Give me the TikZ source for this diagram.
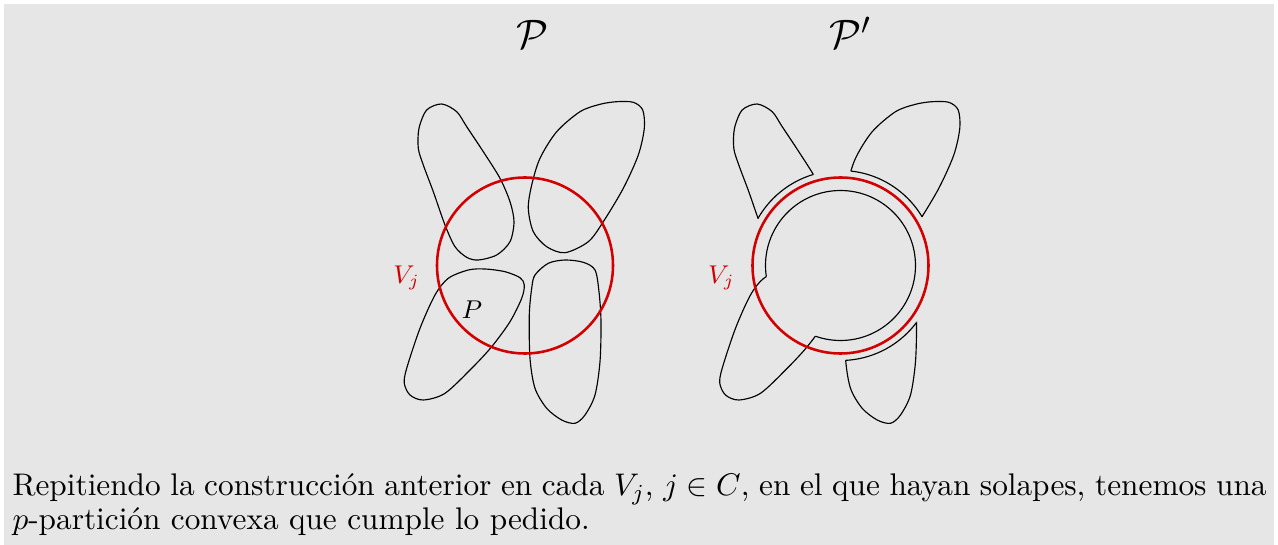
\documentclass[tikz,border=0pt]{standalone}
\usepackage{amsmath,amssymb}
\definecolor{bggray}{RGB}{230,230,230}
\definecolor{vred}{RGB}{210,0,0}
\newcommand\shA{plot[smooth cycle] coordinates {(441.7,104) (426.7,110) (419,128.3) (418.3,148.3) (423.3,165) (433.3,191.7) (445,225) (455,246.7) (466.7,257.3) (478.3,260) (496.7,255) (510,241.7) (514,221.7) (510,201.7) (500,178.3) (483.3,151.7) (466.7,126.7) (456.7,111.7)}}
\newcommand\shB{plot[smooth cycle] coordinates {(616.7,101.7) (633.3,102.3) (642.7,110) (644.3,128.3) (638.3,155) (623.3,188.3) (603.3,221.7) (588.3,241.7) (565,252.7) (546.7,246.7) (533.3,231.7) (528.3,208.3) (531.7,185) (540,158.3) (556.7,131.7) (580,111.7) (600,104.3)}}
\newcommand\shC{plot[smooth cycle] coordinates {(485,269) (468.3,270) (448.3,278.3) (435,295) (420,328.3) (406.7,368.3) (404.3,383.3) (410,395) (423.3,400) (445,393.3) (471.7,368.3) (491.7,346.7) (510,321.7) (521.7,298.3) (524.3,285) (520,277.7) (505,271.7)}}
\newcommand\shD{plot[smooth cycle] coordinates {(565,260) (583.3,262.3) (595,270) (599,291.7) (601,321.7) (600,361.7) (595,395) (585,415) (575,423.3) (561.7,420) (546.7,408.3) (535,388.3) (530,358.3) (529.3,315) (531.7,288.3) (535,275) (548.3,263.3)}}
\begin{document}
\begin{tikzpicture}[x=0.35pt,y=-0.35pt,
  blob/.style={draw=black, line width=0.4pt},
  vcirc/.style={draw=vred, line width=0.9pt},
  vlabel/.style={text=vred, font=\fontsize{8.6}{10}\selectfont, inner sep=0pt},
  plabel/.style={font=\fontsize{9.4}{11}\selectfont, inner sep=0pt},
  title/.style={font=\fontsize{15.5}{18}\selectfont, inner sep=0pt}]
\useasboundingbox (0,0) rectangle (1278,545);
\fill[bggray] (4,4) rectangle (1274,545);
% ---------- left figure P ----------
\coordinate (cL) at (525,265.5);
\draw[blob] \shA;
\draw[blob] \shB;
\draw[blob] \shC;
\draw[blob] \shD;
\draw[vcirc] (cL) circle[radius=88];
\node[plabel] (labP) at (472,310) {$P$};
\node[vlabel] (labVL) at (406.7,278.3) {$V_j$};
\node[title, anchor=base] (titP) at (532.5,49) {$\mathcal{P}$};
% ---------- right figure P' ----------
\begin{scope}[shift={(315.5,0)}]
  \coordinate (cR) at (525,265.5);
  \begin{scope}[even odd rule]
    \clip (-600,-200) rectangle (1200,800) (cR) circle[radius=95];
    \draw[blob] \shA;
    \draw[blob] \shB;
    \draw[blob] \shD;
  \end{scope}
  \begin{scope}\clip \shA; \draw[blob] (cR) circle[radius=95];\end{scope}
  \begin{scope}\clip \shB; \draw[blob] (cR) circle[radius=95];\end{scope}
  \begin{scope}\clip \shD; \draw[blob] (cR) circle[radius=95];\end{scope}
  \begin{scope}[even odd rule]
    \clip (-600,-200) rectangle (1200,800) (cR) circle[radius=75];
    \draw[blob] \shC;
  \end{scope}
  \begin{scope}[even odd rule]
    \clip (-600,-200) rectangle (1200,800) \shC;
    \draw[blob] (cR) circle[radius=75];
  \end{scope}
  \draw[vcirc] (cR) circle[radius=88];
  \node[vlabel] (labVR) at (406,278.3) {$V_j$};
\end{scope}
\node[title, anchor=base west] (titPp) at (829,49) {$\mathcal{P}'$};
% ---------- caption ----------
\node[anchor=north west, text width=438.9pt, align=justify, inner sep=0pt,
      font=\fontsize{10.95}{12.1}\selectfont] (caption) at (12,473)
  {Repitiendo la construcción anterior en cada $V_j$, $j\in C$, en el que hayan solapes, tenemos una\linebreak $p$-partición convexa que cumple lo pedido.};
\end{tikzpicture}
\end{document}
